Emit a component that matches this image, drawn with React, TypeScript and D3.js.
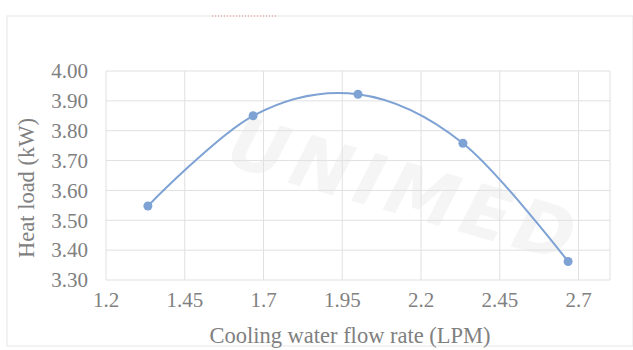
import React from "react";
import * as d3 from "d3";

const flowRate = [1.333, 1.667, 2.0, 2.333, 2.667];
const heatLoad = [3.548, 3.85, 3.922, 3.758, 3.362];
const xTicks = [1.2, 1.45, 1.7, 1.95, 2.2, 2.45, 2.7];
const yTicks = [3.3, 3.4, 3.5, 3.6, 3.7, 3.8, 3.9, 4.0];

const W = 633;
const H = 350;
const margin = { left: 106, right: 23, top: 71, bottom: 70 };

export default function App() {
  const x = d3.scaleLinear().domain([1.2, 2.8]).range([margin.left, W - margin.right]);
  const y = d3.scaleLinear().domain([3.3, 4.0]).range([H - margin.bottom, margin.top]);

  const pts: [number, number][] = flowRate.map((v, i) => [x(v), y(heatLoad[i])]);
  const line = d3.line().curve(d3.curveCardinal.tension(0))(pts) || "";

  const gridX = d3.range(0, 7).map(i => 1.2 + i * 0.25);
  const font = "'Liberation Serif', 'Times New Roman', serif";
  const txt = "#808080";

  return (
    <svg
      width={W}
      height={H}
      style={{ position: "fixed", left: 0, top: 0, background: "#fff" }}
      fontFamily={font}
    >
      {/* faint watermark */}
      <g opacity={0.07} fill="#708070">
        <text
          x={405}
          y={215}
          fontSize={72}
          fontWeight="bold"
          fontStyle="italic"
          fontFamily="'DejaVu Sans', sans-serif"
          textAnchor="middle"
          transform="rotate(16 405 190)"
          letterSpacing={6}
        >
          UNIMED
        </text>
      </g>

      {/* chart frame */}
      <rect x={7} y={16} width={W - 7} height={H - 20} fill="none" stroke="#e6e6e6" />
      <line x1={212} x2={278} y1={16} y2={16} stroke="#e88" strokeDasharray="1 2" />

      {/* gridlines */}
      {yTicks.map(t => (
        <line key={"gy" + t} x1={margin.left} x2={W - margin.right} y1={y(t)} y2={y(t)} stroke="#e0e0e0" />
      ))}
      {gridX.map(t => (
        <line key={"gx" + t} x1={x(t)} x2={x(t)} y1={margin.top} y2={H - margin.bottom} stroke="#e0e0e0" />
      ))}
      <line x1={W - margin.right} x2={W - margin.right} y1={margin.top} y2={H - margin.bottom} stroke="#e0e0e0" />

      {/* tick labels */}
      {yTicks.map(t => (
        <text key={"ty" + t} x={88} y={y(t)} dy="0.35em" textAnchor="end" fontSize={21} fill={txt}>
          {t.toFixed(2)}
        </text>
      ))}
      {xTicks.map(t => (
        <text key={"tx" + t} x={x(t)} y={307} textAnchor="middle" fontSize={21} fill={txt}>
          {String(t)}
        </text>
      ))}

      {/* axis titles */}
      <text x={350} y={343} textAnchor="middle" fontSize={22.5} fill={txt}>
        Cooling water flow rate (LPM)
      </text>
      <text
        transform={`translate(34, 188) rotate(-90)`}
        textAnchor="middle"
        fontSize={22.5}
        fill={txt}
      >
        Heat load (kW)
      </text>

      {/* series */}
      <path d={line} fill="none" stroke="#7ea2d4" strokeWidth={2} />
      {pts.map((p, i) => (
        <circle key={i} cx={p[0]} cy={p[1]} r={4.5} fill="#7ea2d4" />
      ))}
    </svg>
  );
}
